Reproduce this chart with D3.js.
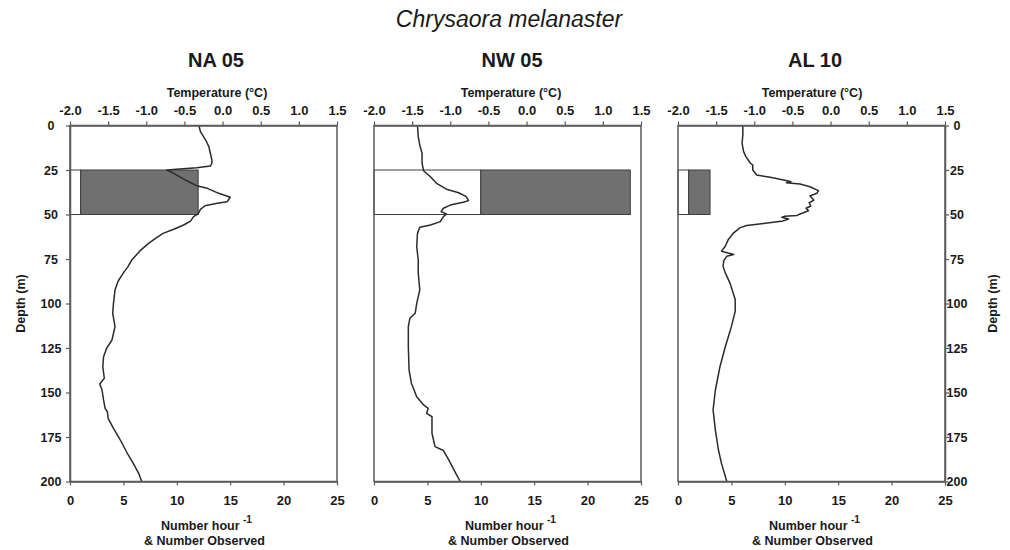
<!DOCTYPE html>
<html>
<head>
<meta charset="utf-8">
<script src="https://cdn.jsdelivr.net/npm/d3@7"></script>
<style>
  body { margin: 0; background: #fff; }
  svg { display: block; font-family: "Liberation Sans", Arial, sans-serif; }
</style>
</head>
<body>
<svg id="chart" width="1010" height="550"></svg>
<script>
// ---- data ----
const species = "Chrysaora melanaster";
const stations = ["NA 05", "NW 05", "AL 10"];
const tempTicks = [-2.0, -1.5, -1.0, -0.5, 0.0, 0.5, 1.0, 1.5];
const countTicks = [0, 5, 10, 15, 20, 25];
const depthTicks = [0, 25, 50, 75, 100, 125, 150, 175, 200];
const binDepth = [25, 50];            // sampled depth stratum (m)
const ratePerHour = [1, 10, 1];       // white segment
const numberObserved = [11, 14, 2];   // grey segment, stacked after the rate

// temperature profiles: [depth (m), temperature (°C)]
const tempNA05 = [[0,-0.31],[3.5,-0.29],[6.3,-0.25],[9.1,-0.21],[11.9,-0.18],[15.6,-0.16],[19.4,-0.14],[21.2,-0.14],[22.8,-0.16],[23.7,-0.34],[24.4,-0.56],[25,-0.73],[26.9,-0.64],[30.6,-0.49],[33.8,-0.34],[35.3,-0.2],[38.1,-0.05],[40.3,0.10],[42.8,0.06],[43.7,-0.07],[45.1,-0.23],[47.1,-0.29],[49.7,-0.32],[51.2,-0.38],[53.7,-0.42],[55.9,-0.51],[58.3,-0.64],[60.6,-0.78],[62.8,-0.86],[66.2,-0.97],[70.3,-1.08],[75.5,-1.19],[79.3,-1.24],[82.8,-1.30],[87.5,-1.37],[92.4,-1.41],[99.9,-1.43],[105.5,-1.44],[113,-1.41],[120.5,-1.45],[125.2,-1.52],[129.9,-1.56],[135.5,-1.57],[142,-1.55],[145.2,-1.61],[148.6,-1.58],[154.2,-1.56],[158.9,-1.54],[160.8,-1.51],[164.5,-1.50],[170.1,-1.43],[176.7,-1.34],[183.3,-1.26],[189.8,-1.17],[195.4,-1.10],[200,-1.06]];
const tempNW05 = [[0,-1.43],[6.3,-1.42],[11,-1.40],[15.6,-1.37],[21.2,-1.37],[25.4,-1.35],[28.8,-1.26],[32.5,-1.18],[35.8,-1.05],[37.8,-0.89],[40,-0.79],[42.2,-0.76],[43.1,-0.83],[44.7,-1.0],[46.5,-1.09],[48.4,-1.12],[49.7,-1.05],[51.2,-1.09],[54,-1.13],[55.9,-1.26],[57.2,-1.40],[60.6,-1.43],[68.1,-1.44],[75.6,-1.42],[82.8,-1.42],[92.4,-1.40],[99.9,-1.44],[105.5,-1.46],[108.3,-1.53],[113,-1.55],[124.3,-1.55],[137.4,-1.54],[144.8,-1.51],[152.4,-1.44],[157,-1.35],[158.9,-1.29],[161.7,-1.31],[163.6,-1.24],[172.9,-1.24],[180.4,-1.20],[182.6,-1.09],[187.9,-1.02],[194.5,-0.94],[200,-0.87]];
const tempAL10 = [[0,-1.15],[5.3,-1.15],[10,-1.16],[14.7,-1.14],[17.5,-1.11],[21.2,-1.05],[22.2,-1.02],[25,-1.02],[27.8,-0.97],[29.1,-0.79],[31,-0.57],[31.6,-0.52],[32.1,-0.58],[32.9,-0.40],[34.4,-0.27],[36.6,-0.16],[38.1,-0.18],[39.6,-0.27],[41.9,-0.22],[43.4,-0.28],[45.2,-0.26],[46.5,-0.32],[47.9,-0.29],[49.7,-0.40],[50.5,-0.44],[51.0,-0.60],[51.6,-0.64],[52.5,-0.55],[53.6,-0.62],[55.1,-0.88],[56.2,-1.10],[57.5,-1.19],[60.3,-1.27],[64,-1.34],[67.8,-1.38],[70.6,-1.43],[72.5,-1.27],[73.4,-1.36],[76,-1.40],[79,-1.41],[82.8,-1.38],[88.4,-1.32],[97.8,-1.25],[104.4,-1.25],[113,-1.30],[124.3,-1.38],[135.5,-1.45],[148.6,-1.51],[159.8,-1.54],[171.1,-1.51],[182.3,-1.47],[189.8,-1.43],[200,-1.36]];
const profiles = [tempNA05, tempNW05, tempAL10];

// ---- layout ----
const panelLeft = [70, 374, 678];
const panelW = 267;
const plotTop = 125.5, plotBottom = 481.5;
const panelH = plotBottom - plotTop;
const titleX = [216, 512, 815];
const tempLabelX = [217, 511, 812];
const axisColor = "#5a5a5a";
const inkColor = "#1a1a1a";

const svg = d3.select("#chart");

svg.append("text")
  .attr("x", 509).attr("y", 27)
  .attr("text-anchor", "middle")
  .attr("font-size", 23).attr("font-style", "italic")
  .attr("fill", inkColor)
  .text(species);

const xCount = d3.scaleLinear().domain([0, 25]).range([0, panelW]);
const xTemp = d3.scaleLinear().domain([-2.0, 1.5]).range([0, panelW]);
const yDepth = d3.scaleLinear().domain([0, 200]).range([0, panelH]);

const stacked = d3.stack().keys(["rate", "observed"])(
  stations.map((s, i) => ({ station: s, rate: ratePerHour[i], observed: numberObserved[i] }))
);
const segFill = { rate: "#ffffff", observed: "#707070" };

const line = d3.line().x(d => xTemp(d[1])).y(d => yDepth(d[0]));

function styleAxis(g, size) {
  g.select(".domain").attr("stroke", axisColor).attr("stroke-width", 1.5);
  g.selectAll(".tick line").attr("stroke", axisColor).attr("stroke-width", 1.2);
  g.selectAll(".tick text")
    .attr("fill", inkColor)
    .attr("font-size", size)
    .attr("font-weight", "bold")
    .attr("font-family", "'Liberation Sans', Arial, sans-serif");
}

stations.forEach((name, i) => {
  const g = svg.append("g").attr("transform", `translate(${panelLeft[i]},${plotTop})`);
  const cx = panelW / 2;

  // stacked bars for the sampled stratum
  stacked.forEach(series => {
    const seg = series[i];
    g.append("rect")
      .attr("x", xCount(seg[0]))
      .attr("y", yDepth(binDepth[0]))
      .attr("width", xCount(seg[1]) - xCount(seg[0]))
      .attr("height", yDepth(binDepth[1]) - yDepth(binDepth[0]))
      .attr("fill", segFill[series.key])
      .attr("stroke", "#3e3e3e")
      .attr("stroke-width", 1);
  });

  // temperature profile
  g.append("path")
    .datum(profiles[i])
    .attr("d", line)
    .attr("fill", "none")
    .attr("stroke", "#2b2b2b")
    .attr("stroke-width", 1.5)
    .attr("stroke-linejoin", "round");

  // frame
  g.append("rect")
    .attr("x", 0).attr("y", 0)
    .attr("width", panelW).attr("height", panelH)
    .attr("fill", "none")
    .attr("stroke", axisColor).attr("stroke-width", 1.5);

  // top temperature axis
  const ax = g.append("g")
    .call(d3.axisTop(xTemp).tickValues(tempTicks).tickFormat(d => d.toFixed(1))
      .tickSizeInner(4).tickSizeOuter(0).tickPadding(7));
  styleAxis(ax, 13);

  // bottom count axis
  const bx = g.append("g").attr("transform", `translate(0,${panelH})`)
    .call(d3.axisBottom(xCount).tickValues(countTicks).tickFormat(d3.format("d"))
      .tickSizeInner(4).tickSizeOuter(0).tickPadding(10));
  styleAxis(bx, 13);

  // depth axis on the outer panels
  if (i === 0) {
    const ly = g.append("g")
      .call(d3.axisLeft(yDepth).tickValues(depthTicks).tickFormat(d3.format("d"))
        .tickSizeInner(4).tickSizeOuter(0));
    styleAxis(ly, 12.5);
    ly.selectAll(".tick text").attr("text-anchor", "middle").attr("x", -19);
  }
  if (i === stations.length - 1) {
    const ry = g.append("g").attr("transform", `translate(${panelW},0)`)
      .call(d3.axisRight(yDepth).tickValues(depthTicks).tickFormat(d3.format("d"))
        .tickSizeInner(4).tickSizeOuter(0));
    styleAxis(ry, 12.5);
    ry.selectAll(".tick text").attr("text-anchor", "middle").attr("x", 12);
  }

  // station title
  svg.append("text")
    .attr("x", titleX[i]).attr("y", 67)
    .attr("text-anchor", "middle")
    .attr("font-size", 20).attr("font-weight", "bold")
    .attr("fill", inkColor)
    .text(name);

  // temperature label
  svg.append("text")
    .attr("x", tempLabelX[i]).attr("y", 97)
    .attr("text-anchor", "middle")
    .attr("font-size", 12.5).attr("font-weight", "bold")
    .attr("fill", inkColor)
    .text("Temperature (°C)");

  // count label
  const lbl = svg.append("text")
    .attr("x", panelLeft[i] + cx + 3).attr("y", 530)
    .attr("text-anchor", "middle")
    .attr("font-size", 12.5).attr("font-weight", "bold")
    .attr("fill", inkColor);
  lbl.append("tspan").text("Number hour ");
  lbl.append("tspan").attr("dy", -7).attr("font-size", 10).text("-1");
  svg.append("text")
    .attr("x", panelLeft[i] + cx + 1).attr("y", 545)
    .attr("text-anchor", "middle")
    .attr("font-size", 12.5).attr("font-weight", "bold")
    .attr("fill", inkColor)
    .text("& Number Observed");
});

// depth axis titles
const midY = plotTop + panelH / 2;
svg.append("text")
  .attr("transform", `translate(25,${midY}) rotate(-90)`)
  .attr("text-anchor", "middle")
  .attr("font-size", 12.5).attr("font-weight", "bold")
  .attr("fill", inkColor)
  .text("Depth (m)");
svg.append("text")
  .attr("transform", `translate(997,${midY}) rotate(-90)`)
  .attr("text-anchor", "middle")
  .attr("font-size", 12.5).attr("font-weight", "bold")
  .attr("fill", inkColor)
  .text("Depth (m)");
</script>
</body>
</html>
